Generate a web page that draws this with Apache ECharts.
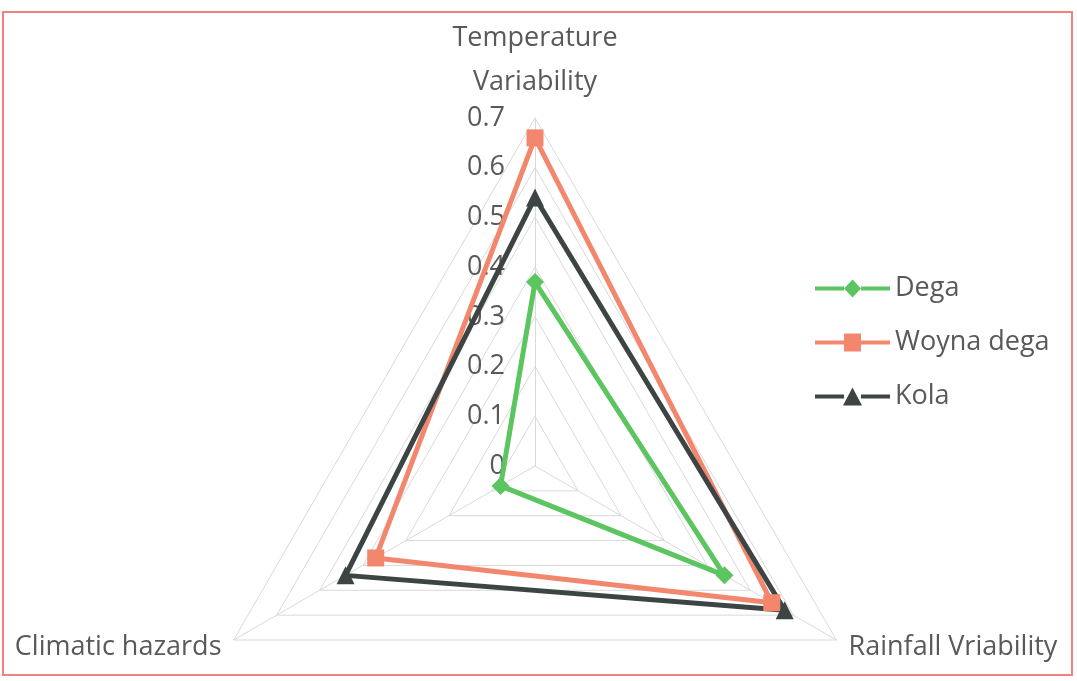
<!DOCTYPE html>
<html>
<head>
<meta charset="utf-8">
<script src="https://cdn.jsdelivr.net/npm/echarts@6/dist/echarts.min.js"></script>
<style>
html,body{margin:0;padding:0;background:#fff;}
#frame{position:absolute;left:2px;top:11px;width:1067px;height:661px;border:2px solid #ef837c;}
#chart{position:absolute;left:0;top:0;width:1077px;height:681px;}
</style>
</head>
<body>
<div id="frame"></div>
<div id="chart"></div>
<script>
const indicators = ['Temperature\nVariability', 'Climatic hazards', 'Rainfall Vriability'];
const seriesNames = ['Dega', 'Woyna dega', 'Kola'];
const dega = [0.37, 0.08, 0.44];
const woynaDega = [0.66, 0.37, 0.55];
const kola = [0.54, 0.44, 0.58];
const axisMax = 0.7;

const colors = ['#5cc55f', '#f2876e', '#3c4444'];
const symbols = ['diamond', 'rect', 'triangle'];
const legendIcons = [
  'path://M0,7 L29,7 L29,11 L0,11 Z M46,7 L75,7 L75,11 L46,11 Z M37.5,0 L46,9 L37.5,18 L29,9 Z',
  'path://M0,7 L29,7 L29,11 L0,11 Z M46,7 L75,7 L75,11 L46,11 Z M29,0 L46,0 L46,18 L29,18 Z',
  'path://M0,7 L29,7 L29,11 L0,11 Z M46,7 L75,7 L75,11 L46,11 Z M37.5,0 L47,18 L28,18 Z'
];
const values = [dega, woynaDega, kola];

const chart = echarts.init(document.getElementById('chart'));
chart.setOption({
  animation: false,
  backgroundColor: 'transparent',
  legend: {
    orient: 'vertical',
    left: 810,
    top: 270,
    itemWidth: 75,
    itemHeight: 18,
    itemGap: 27,
    textStyle: {fontFamily: 'Open Sans', fontSize: 27, color: '#595959'},
    data: seriesNames.map((n, i) => ({name: n, icon: legendIcons[i]}))
  },
  radar: {
    center: [535, 466],
    radius: 348,
    startAngle: 90,
    shape: 'polygon',
    splitNumber: 7,
    axisName: {fontFamily: 'Open Sans', fontSize: 27, color: '#595959', lineHeight: 44},
    nameGap: 14,
    axisLine: {lineStyle: {color: '#d9d9d9', width: 1}},
    splitLine: {lineStyle: {color: '#d9d9d9', width: 1}},
    splitArea: {show: false},
    axisTick: {show: false},
    axisLabel: {show: false},
    indicator: indicators.map((n, i) => ({
      name: n, min: 0, max: axisMax,
      axisLabel: i === 0 ? {show: true, fontFamily: 'Open Sans', fontSize: 27, color: '#595959', margin: 30,
        formatter: v => String(Math.round(v * 10) / 10)} : {show: false}
    }))
  },
  series: seriesNames.map((n, i) => ({
    name: n,
    type: 'radar',
    symbol: symbols[i],
    symbolSize: i === 1 ? 17 : 18,
    itemStyle: {color: colors[i]},
    lineStyle: {color: colors[i], width: 5},
    data: [{value: values[i], name: n}]
  }))
});
</script>
</body>
</html>
